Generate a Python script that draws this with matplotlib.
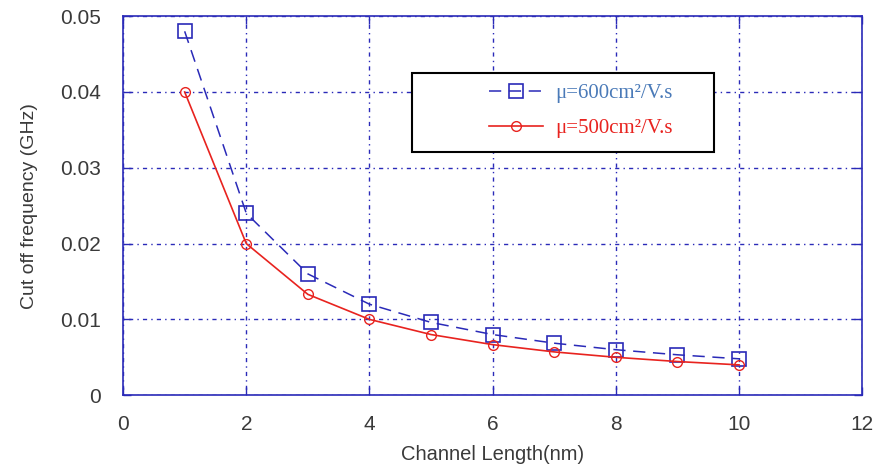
import matplotlib.pyplot as plt
import numpy as np
from matplotlib.patches import Rectangle

# lunghezza di canale (nm) e frequenza di taglio (GHz)
L = np.array([1, 2, 3, 4, 5, 6, 7, 8, 9, 10])
f_600 = np.array([0.048, 0.024, 0.016, 0.012, 0.0096, 0.0080, 0.00686, 0.0060, 0.00533, 0.0048])
f_500 = np.array([0.040, 0.020, 0.0133, 0.010, 0.0080, 0.00667, 0.00571, 0.0050, 0.00444, 0.0040])

blu = '#2a2ab8'
rosso = '#e8231f'

fig = plt.figure(figsize=(8.79, 4.75), dpi=100)
ax = fig.add_axes([0.14, 0.168, 0.841, 0.798])

ax.plot(L, f_600, color=blu, linestyle=(0, (8, 5)), lw=1.1, marker='s', ms=10,
        mfc='none', mec=blu, mew=1.2, label='μ=600cm²/V.s')
ax.plot(L, f_500, color=rosso, lw=1.2, marker='o', ms=7,
        mfc='none', mec=rosso, mew=1.0, label='μ=500cm²/V.s')

ax.set_xlim(0, 12)
ax.set_ylim(0, 0.05)
ax.set_xticks(np.arange(0, 13, 2))
ax.set_yticks(np.arange(0, 0.051, 0.01))
ax.set_yticklabels(['0', '0.01', '0.02', '0.03', '0.04', '0.05'])

ax.grid(True, color=blu, linestyle=(0, (1, 3, 3, 3)), lw=1.0)
for s in ax.spines.values():
    s.set_color(blu)
    s.set_linewidth(1.2)
ax.tick_params(direction='in', length=6, color=blu, width=1.0,
               labelsize=15, labelcolor='#3a3a3a', top=True, right=True)
ax.tick_params(axis='x', pad=14)
ax.tick_params(axis='y', pad=16)
for t in ax.get_xticklabels() + ax.get_yticklabels():
    t.set_family('Liberation Sans')

ax.set_xlabel('Channel Length(nm)', fontsize=14.5, color='#3a3a3a', family='Liberation Sans', labelpad=8)
ax.set_ylabel('Cut off frequency (GHz)', fontsize=14, color='#3a3a3a', family='Liberation Sans', labelpad=16)

# riquadro della legenda
box = Rectangle((0.391, 0.641), 0.409, 0.209, transform=ax.transAxes,
                facecolor='white', edgecolor='black', lw=1.5, zorder=4)
ax.add_patch(box)
leg = ax.legend(loc='upper right', bbox_to_anchor=(0.755, 0.845), borderaxespad=0,
                frameon=False, prop={'family': 'Liberation Serif', 'size': 15},
                handlelength=2.6, handletextpad=0.6, labelspacing=0.75)
leg.set_zorder(5)
leg.get_texts()[0].set_color('#4a7ab8')
leg.get_texts()[1].set_color(rosso)

plt.savefig('out.png', dpi=100)
